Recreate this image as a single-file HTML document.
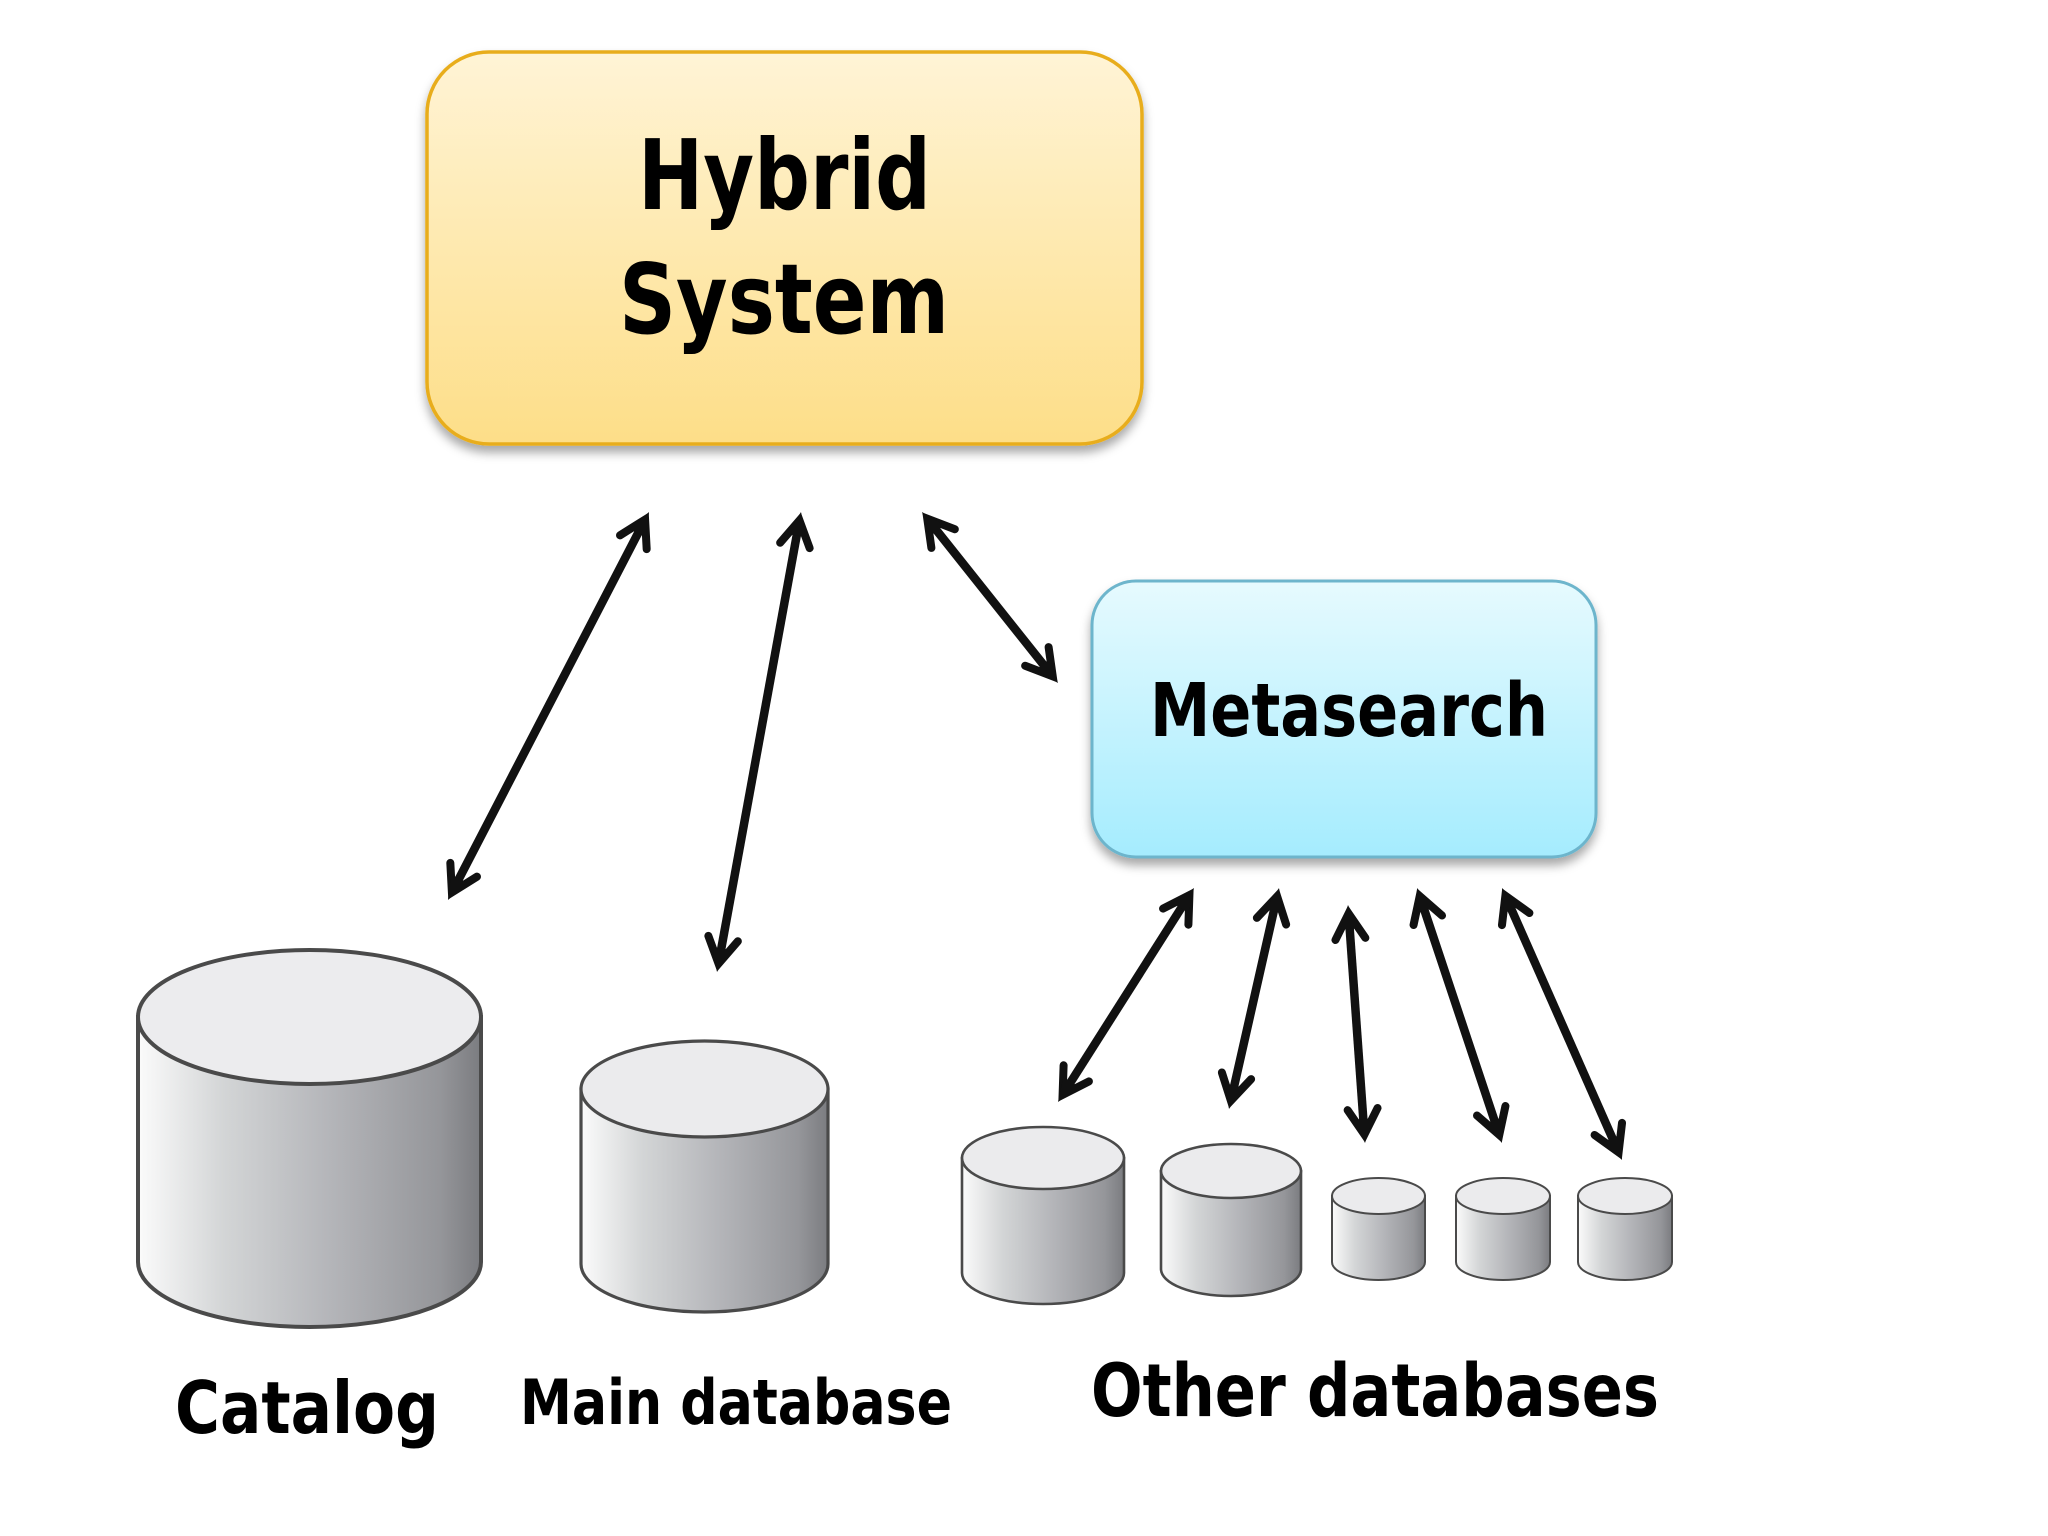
<!DOCTYPE html>
<html><head><meta charset="utf-8"><style>
html,body{margin:0;padding:0;background:#fff;width:2048px;height:1536px;overflow:hidden}
svg{display:block}
text{font-family:"DejaVu Sans","Liberation Sans",sans-serif;font-weight:700;fill:#000}
</style></head><body>
<svg width="2048" height="1536" viewBox="0 0 2048 1536" xmlns="http://www.w3.org/2000/svg">
<defs>
<linearGradient id="y" x1="0" y1="0" x2="0" y2="1"><stop offset="0" stop-color="#fff4d6"/><stop offset="1" stop-color="#fdde88"/></linearGradient>
<linearGradient id="b" x1="0" y1="0" x2="0" y2="1"><stop offset="0" stop-color="#e6fafe"/><stop offset="1" stop-color="#a5ecfe"/></linearGradient>
<linearGradient id="c" x1="0" y1="0" x2="1" y2="0"><stop offset="0" stop-color="#fbfbfb"/><stop offset=".25" stop-color="#d3d5d6"/><stop offset=".55" stop-color="#b5b6ba"/><stop offset=".88" stop-color="#95969a"/><stop offset="1" stop-color="#7b7c80"/></linearGradient>
<filter id="s" x="-5%" y="-5%" width="110%" height="115%"><feDropShadow dx="0" dy="7" stdDeviation="5" flood-color="#000" flood-opacity=".34"/></filter>
<marker id="h" markerUnits="userSpaceOnUse" markerWidth="80" markerHeight="80" refX="0" refY="0" orient="auto-start-reverse" overflow="visible">
<path d="M-24,-15 L1.5,0 L-24,15" fill="none" stroke="#111" stroke-width="8" stroke-linecap="round"/>
<path d="M10,0 L-14,-9 L-14,9Z" fill="#111"/>
</marker>
</defs>

<rect x="427" y="52" width="715" height="392" rx="62" ry="62" fill="url(#y)" stroke="#e8ad1d" stroke-width="3.5" filter="url(#s)"/>
<rect x="1092" y="581" width="504" height="276" rx="44" ry="44" fill="url(#b)" stroke="#6db5cc" stroke-width="3" filter="url(#s)"/>

<text x="638" y="209" font-size="97" textLength="293" lengthAdjust="spacingAndGlyphs">Hybrid</text>
<text x="619" y="333" font-size="97" textLength="330" lengthAdjust="spacingAndGlyphs">System</text>
<text x="1150" y="736" font-size="74" textLength="398" lengthAdjust="spacingAndGlyphs">Metasearch</text>
<text x="175" y="1433" font-size="72" textLength="264" lengthAdjust="spacingAndGlyphs">Catalog</text>
<text x="520" y="1424" font-size="62" textLength="432" lengthAdjust="spacingAndGlyphs">Main database</text>
<text x="1091" y="1416" font-size="73" textLength="568" lengthAdjust="spacingAndGlyphs">Other databases</text>

<g stroke="#111" stroke-width="8.5" fill="none">
<line x1="644.4" y1="520.9" x2="452.6" y2="891.1" marker-start="url(#h)" marker-end="url(#h)"/>
<line x1="799.2" y1="521.8" x2="718.8" y2="962.2" marker-start="url(#h)" marker-end="url(#h)"/>
<line x1="928.2" y1="519.8" x2="1051.8" y2="675.2" marker-start="url(#h)" marker-end="url(#h)"/>
<line x1="1188.6" y1="896.4" x2="1063.4" y2="1093.6" marker-start="url(#h)" marker-end="url(#h)"/>
<line x1="1276.8" y1="897.8" x2="1231.2" y2="1099.2" marker-start="url(#h)" marker-end="url(#h)"/>
<line x1="1348.7" y1="915" x2="1364.3" y2="1133" marker-start="url(#h)" marker-end="url(#h)"/>
<line x1="1420.2" y1="897.5" x2="1498.8" y2="1133.5" marker-start="url(#h)" marker-end="url(#h)"/>
<line x1="1506" y1="897.1" x2="1618" y2="1150.9" marker-start="url(#h)" marker-end="url(#h)"/>
</g>

<g stroke="#4a4a4a">
<g stroke-width="4">
<path d="M138,1017 V1262 A171.5,65 0 0 0 481,1262 V1017Z" fill="url(#c)"/>
<ellipse cx="309.5" cy="1017" rx="171.5" ry="67" fill="#ececee"/>
</g>
<g stroke-width="3.2">
<path d="M581,1089 V1264 A123.5,48 0 0 0 828,1264 V1089Z" fill="url(#c)"/>
<ellipse cx="704.5" cy="1089" rx="123.5" ry="48" fill="#ebebed"/>
</g>
<g stroke-width="2.6">
<path d="M962,1158 V1273 A81,31 0 0 0 1124,1273 V1158Z" fill="url(#c)"/>
<ellipse cx="1043" cy="1158" rx="81" ry="31" fill="#ebebed"/>
<path d="M1161,1171 V1269 A70,27 0 0 0 1301,1269 V1171Z" fill="url(#c)"/>
<ellipse cx="1231" cy="1171" rx="70" ry="27" fill="#ebebed"/>
</g>
<g stroke-width="2">
<path d="M1332,1196 V1262 A46.5,18 0 0 0 1425,1262 V1196Z" fill="url(#c)"/>
<ellipse cx="1378.5" cy="1196" rx="46.5" ry="18" fill="#ebebed"/>
<path d="M1456,1196 V1262 A47,18 0 0 0 1550,1262 V1196Z" fill="url(#c)"/>
<ellipse cx="1503" cy="1196" rx="47" ry="18" fill="#ebebed"/>
<path d="M1578,1196 V1262 A47,18 0 0 0 1672,1262 V1196Z" fill="url(#c)"/>
<ellipse cx="1625" cy="1196" rx="47" ry="18" fill="#ebebed"/>
</g>
</g>
</svg>
</body></html>
